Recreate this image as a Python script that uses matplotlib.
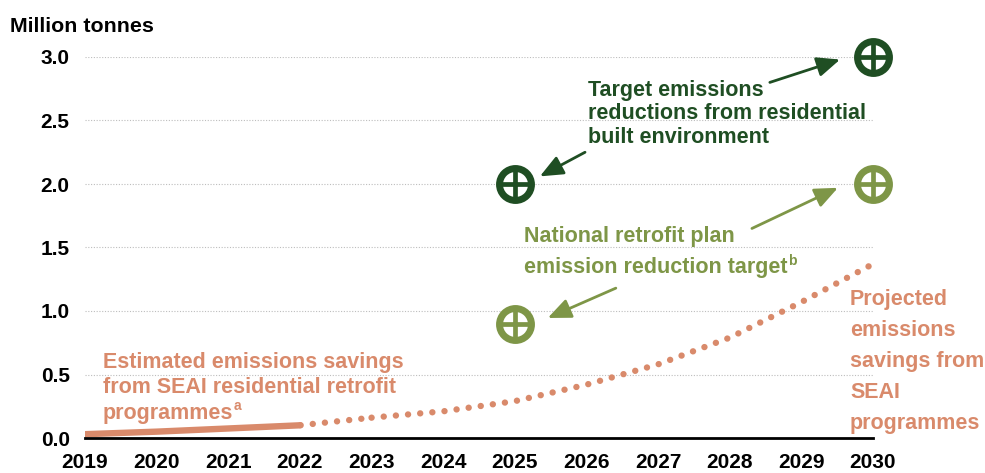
import matplotlib.pyplot as plt

plt.rcParams['font.family'] = ['Liberation Sans', 'DejaVu Sans']
plt.rcParams['font.weight'] = 'bold'

# data
hist_years = [2019, 2020, 2021, 2022]
hist_savings = [0.03, 0.05, 0.075, 0.10]
proj_years = [2022, 2023, 2024, 2025, 2026, 2027, 2028, 2029, 2030]
proj_savings = [0.10, 0.16, 0.21, 0.29, 0.42, 0.58, 0.79, 1.07, 1.37]
target_years = [2025, 2030]
target_built_env = [2.0, 3.0]
target_retrofit_plan = [0.9, 2.0]
x_ticks = list(range(2019, 2031))
y_ticks = [0.0, 0.5, 1.0, 1.5, 2.0, 2.5, 3.0]

DARK = '#1F4E23'
OLIVE = '#7E9647'
ORANGE = '#D98A6B'
FS = 15.5

fig = plt.figure(figsize=(9.85, 4.73), dpi=100)
ax = fig.add_axes([85 / 985, 35 / 473, 788 / 985, 381 / 473])

ax.plot(hist_years, hist_savings, color=ORANGE, lw=4.6, solid_capstyle='round')
ax.plot(proj_years[1:], proj_savings[1:], color=ORANGE, lw=4.6,
        linestyle=(0, (0.01, 1.9)), dash_capstyle='round')
ax.plot(proj_years[:2], proj_savings[:2], color=ORANGE, lw=4.6,
        linestyle=(1.8, (0.01, 1.9)), dash_capstyle='round')


def target_markers(xs, ys, color):
    ax.plot(xs, ys, 'o', ms=23, mfc='white', mec=color, mew=5,
            clip_on=False, zorder=5)
    ax.plot(xs, ys, '+', ms=24, mec=color, mew=3.4, clip_on=False, zorder=6)


target_markers(target_years, target_built_env, DARK)
target_markers(target_years, target_retrofit_plan, OLIVE)


def text_block(x, y, lines, step_px, color, sup=None):
    t = None
    for i, line in enumerate(lines):
        t = ax.annotate(line, xy=(x, y), xytext=(0, -i * step_px * 0.72),
                        textcoords='offset points', color=color, fontsize=FS,
                        fontweight='bold', ha='left', va='center',
                        annotation_clip=False)
    if sup:
        ax.annotate(sup, xy=(1.0, 0.85), xycoords=t, xytext=(0.5, 0),
                    textcoords='offset points', color=color,
                    fontsize=10, fontweight='bold', ha='left', va='center')


text_block(2026.02, 2.74, ['Target emissions', 'reductions from residential',
                           'built environment'], 23.5, DARK)
text_block(2025.13, 1.583, ['National retrofit plan',
                            'emission reduction target'], 31, OLIVE, sup='b')
text_block(2019.25, 0.598, ['Estimated emissions savings',
                            'from SEAI residential retrofit',
                            'programmes'], 25.5, ORANGE, sup='a')
text_block(2029.68, 1.087, ['Projected', 'emissions', 'savings from', 'SEAI',
                            'programmes'], 31, ORANGE)

arrow = dict(arrowstyle='-|>,head_length=0.7,head_width=0.3', lw=2,
             mutation_scale=20, shrinkA=0, shrinkB=0)
ax.annotate('', xy=(2029.54, 2.98), xytext=(2028.56, 2.80),
            arrowprops=dict(color=DARK, **arrow))
ax.annotate('', xy=(2025.35, 2.06), xytext=(2025.98, 2.25),
            arrowprops=dict(color=DARK, **arrow))
ax.annotate('', xy=(2029.51, 1.97), xytext=(2028.31, 1.65),
            arrowprops=dict(color=OLIVE, **arrow))
ax.annotate('', xy=(2025.46, 0.945), xytext=(2026.41, 1.18),
            arrowprops=dict(color=OLIVE, **arrow))

ax.set_xlim(2019, 2030)
ax.set_ylim(0, 3.0)
ax.set_xticks(x_ticks)
ax.set_yticks(y_ticks)
ax.set_yticklabels([f'{v:.1f}' for v in y_ticks])
ax.tick_params(length=0, labelsize=15)
ax.tick_params(axis='x', pad=11)
ax.tick_params(axis='y', pad=11)
for lab in ax.get_xticklabels() + ax.get_yticklabels():
    lab.set_fontweight('bold')

ax.grid(axis='y', linestyle=(0, (1, 1.5)), color='#BDBDBD', lw=0.8)
ax.set_axisbelow(True)
for side in ['top', 'right', 'left']:
    ax.spines[side].set_visible(False)
ax.spines['bottom'].set_linewidth(2)
ax.spines['bottom'].set_color('black')
ax.spines['bottom'].set_zorder(4)

fig.text(10 / 985, 1 - 26 / 473, 'Million tonnes', fontsize=15.4,
         fontweight='bold', ha='left', va='center')

fig.savefig('out.png', dpi=100)
